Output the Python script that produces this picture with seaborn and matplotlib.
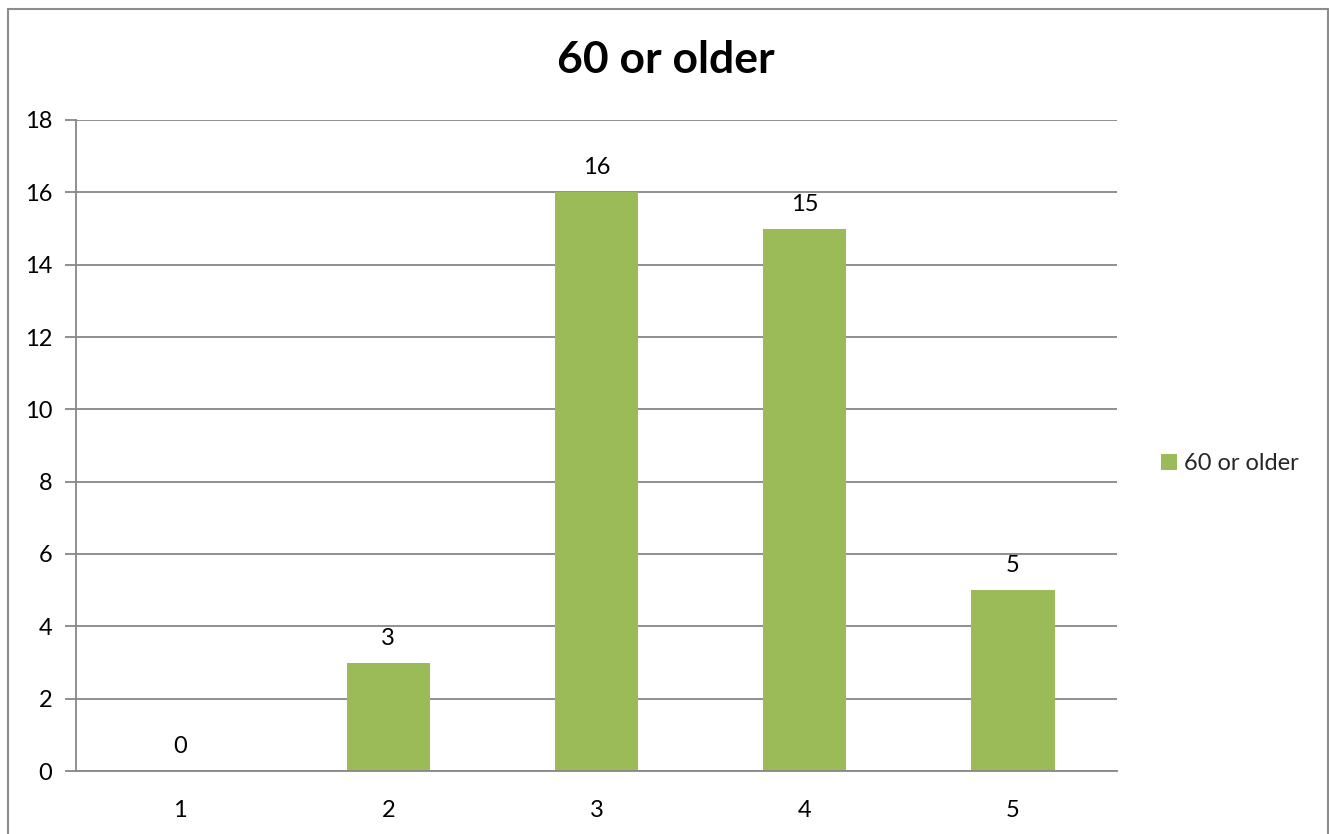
import matplotlib
matplotlib.use("Agg")
import matplotlib.pyplot as plt
from matplotlib.lines import Line2D
import seaborn as sns
import pandas as pd

categories = ["1", "2", "3", "4", "5"]
values = [0, 3, 16, 15, 5]
series_name = "60 or older"
y_ticks = [0, 2, 4, 6, 8, 10, 12, 14, 16, 18]

BAR_COLOR = "#9BBB59"
GRID_COLOR = "#878787"
FONT = ["Lato", "DejaVu Sans"]

sns.set_theme(style="white")
plt.rcParams["font.family"] = FONT

df = pd.DataFrame({"category": categories, "value": values, "series": series_name})

fig = plt.figure(figsize=(13.29, 8.34), dpi=100)
ax = fig.add_axes([76 / 1329, 1 - 771 / 834, (1117 - 76) / 1329, (771 - 120) / 834])

sns.barplot(data=df, x="category", y="value", hue="series", palette=[BAR_COLOR],
            width=0.4, ax=ax, saturation=1, legend=False, linewidth=0, edgecolor="none")

ax.set_xlim(-0.5, len(categories) - 0.5)
ax.set_ylim(0, 18)
ax.set_yticks(y_ticks)
ax.yaxis.grid(True, color=GRID_COLOR, linewidth=1.3)
ax.set_axisbelow(True)
ax.set_xlabel("")
ax.set_ylabel("")

for side in ("top", "right"):
    ax.spines[side].set_visible(False)
for side in ("left", "bottom"):
    ax.spines[side].set_color(GRID_COLOR)
    ax.spines[side].set_linewidth(1.3)

# category labels centred, tick marks between categories
ax.set_xticks(range(len(categories)))
ax.set_xticklabels(categories)
ax.set_xticks([i - 0.5 for i in range(len(categories) + 1)], minor=True)
ax.tick_params(axis="x", which="major", length=0, pad=21, labelsize=17, labelcolor="black")
ax.tick_params(axis="x", which="minor", length=8, width=1.3, color=GRID_COLOR, direction="out")
ax.tick_params(axis="y", which="major", length=8, width=1.3, color=GRID_COLOR,
               direction="out", left=True, pad=9, labelsize=17, labelcolor="black")

# value labels above each bar
for i, v in enumerate(values):
    ax.annotate(f"{v}", (i, v), xytext=(0, 10), textcoords="offset points",
                ha="center", va="bottom", fontsize=17, color="black")

fig.text((557 + 775) / 2 / 1329, 1 - 60 / 834, series_name, ha="center", va="center",
         fontsize=32, fontweight="bold", color="black")

# legend
handle = plt.Rectangle((0, 0), 1, 1, facecolor=BAR_COLOR, edgecolor="none")
fig.legend([handle], [series_name], loc="center left",
           bbox_to_anchor=(1140 / 1329, 1 - 464 / 834), frameon=False,
           fontsize=17, handlelength=0.65, handleheight=0.65, handletextpad=0.3)

# chart border (left, top, right)
bx0, bx1 = 7.5 / 1329, 1327.5 / 1329
by_top = 1 - 8.5 / 834
for xs, ys in (([bx0, bx0], [0, by_top]), ([bx0, bx1], [by_top, by_top]), ([bx1, bx1], [by_top, 0])):
    fig.add_artist(Line2D(xs, ys, color="#8C8C8C", linewidth=1.5, transform=fig.transFigure))

fig.savefig("out.png", dpi=100, facecolor="white")
